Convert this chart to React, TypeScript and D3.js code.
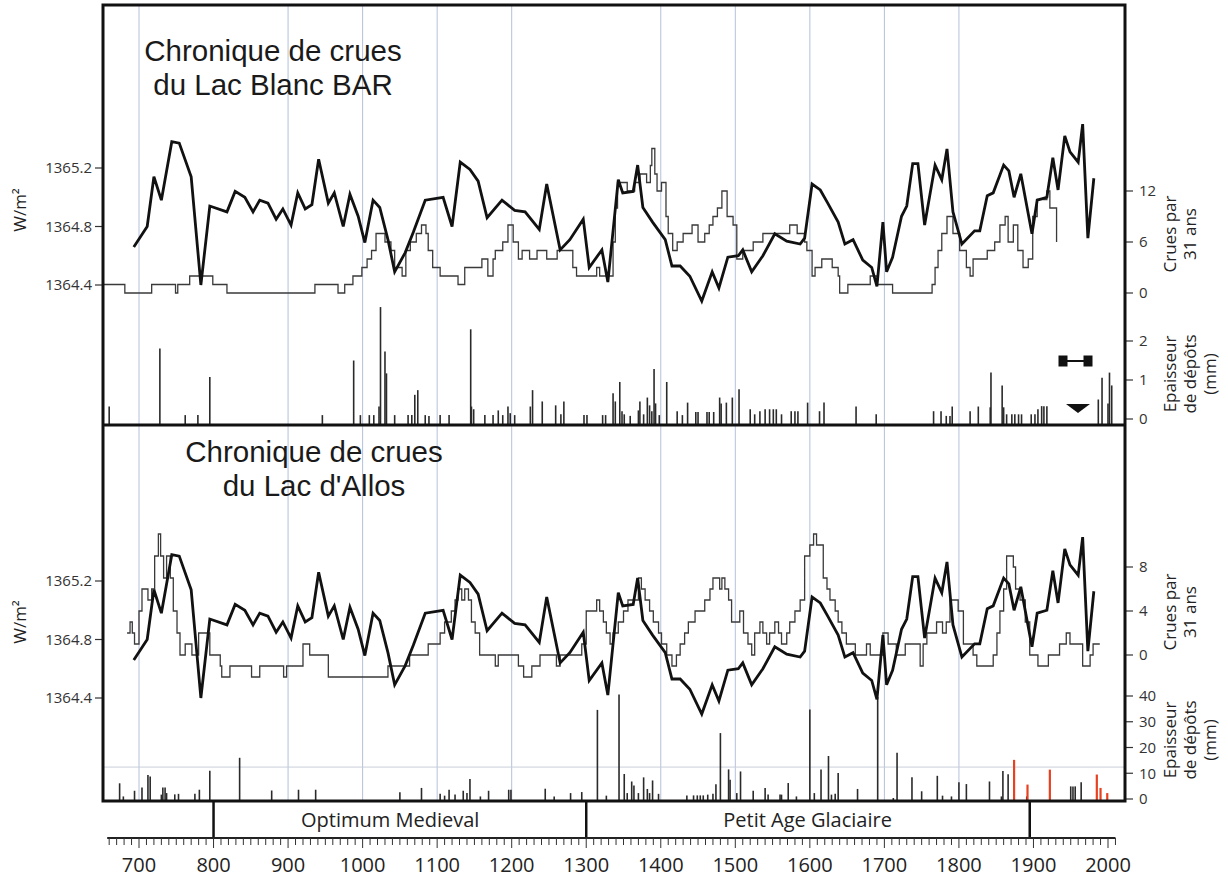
import * as d3 from 'd3'

const WIDTH = 1228
const HEIGHT = 879
const FONT = '"Open Sans", "Noto Sans", sans-serif'
const TITLE_FONT = '"Liberation Sans", Arial, sans-serif'
const FRAME = { left: 103, right: 1125, top: 5, mid: 425, bottom: 801 }

// solar irradiance (W/m2), same curve in both panels
const solar: [number, number][] = [
  [693, 1364.66], [711, 1364.8], [720, 1365.14], [730, 1364.98], [744, 1365.38], [754, 1365.37],
  [770, 1365.14], [783, 1364.4], [795, 1364.94], [818, 1364.9], [829, 1365.04], [842, 1365.0],
  [853, 1364.9], [862, 1364.98], [873, 1364.96], [884, 1364.85], [893, 1364.92], [904, 1364.81],
  [913, 1365.03], [923, 1364.92], [932, 1364.95], [941, 1365.26], [954, 1364.96], [962, 1365.03],
  [974, 1364.8], [983, 1365.02], [994, 1364.87], [1003, 1364.69], [1014, 1364.98], [1023, 1364.93],
  [1034, 1364.71], [1043, 1364.49], [1057, 1364.62], [1068, 1364.76], [1084, 1364.98], [1108, 1365.0],
  [1120, 1364.8], [1131, 1365.24], [1144, 1365.19], [1155, 1365.11], [1167, 1364.86], [1187, 1364.98],
  [1204, 1364.91], [1218, 1364.9], [1237, 1364.78], [1247, 1365.09], [1265, 1364.64], [1278, 1364.71],
  [1296, 1364.85], [1304, 1364.52], [1321, 1364.64], [1329, 1364.42], [1343, 1365.12], [1349, 1365.03],
  [1363, 1365.04], [1369, 1365.22], [1376, 1364.93], [1389, 1364.83], [1406, 1364.71], [1415, 1364.53],
  [1426, 1364.53], [1439, 1364.46], [1455, 1364.29], [1469, 1364.49], [1478, 1364.38], [1490, 1364.59],
  [1504, 1364.6], [1510, 1364.64], [1522, 1364.49], [1537, 1364.6], [1553, 1364.75], [1569, 1364.7],
  [1587, 1364.68], [1593, 1364.72], [1603, 1365.09], [1614, 1365.05], [1624, 1364.96], [1638, 1364.83],
  [1647, 1364.68], [1658, 1364.71], [1671, 1364.57], [1683, 1364.52], [1690, 1364.39], [1698, 1364.83],
  [1703, 1364.49], [1711, 1364.59], [1723, 1364.87], [1730, 1364.94], [1738, 1365.23], [1745, 1365.23],
  [1754, 1364.81], [1768, 1365.22], [1777, 1365.12], [1784, 1365.33], [1792, 1364.9], [1804, 1364.68],
  [1821, 1364.77], [1828, 1364.77], [1838, 1365.01], [1846, 1365.03], [1860, 1365.22], [1867, 1365.18],
  [1874, 1365.0], [1883, 1365.16], [1898, 1364.75], [1905, 1364.98], [1918, 1365.0], [1926, 1365.27],
  [1933, 1365.05], [1942, 1365.42], [1949, 1365.31], [1960, 1365.24], [1966, 1365.5], [1973, 1364.72],
  [1981, 1365.13],
]

// crues par 31 ans, Lac Blanc (step after)
const blancCrues: [number, number][] = [
  [652, 1], [681, 0], [717, 1], [749, 0], [752, 1], [768, 2], [799, 1], [818, 0], [936, 1], [967, 0],
  [976, 1], [987, 2], [999, 3], [1006, 4], [1012, 5], [1018, 7], [1030, 6], [1038, 5], [1043, 3],
  [1053, 2], [1058, 5], [1064, 6], [1072, 7], [1079, 8], [1085, 7], [1088, 5], [1094, 3], [1104, 2],
  [1128, 1], [1137, 3], [1160, 4], [1168, 2], [1175, 4], [1178, 5], [1188, 6], [1195, 8], [1202, 6],
  [1209, 4], [1214, 5], [1224, 4], [1234, 5], [1247, 4], [1261, 5], [1282, 3], [1287, 2], [1314, 3],
  [1318, 2], [1336, 6], [1339, 10], [1342, 13], [1355, 12], [1365, 13], [1372, 14], [1381, 13],
  [1386, 15], [1388, 17], [1392, 14], [1395, 12], [1401, 13], [1407, 9], [1410, 7], [1416, 5],
  [1422, 6], [1430, 7], [1442, 8], [1450, 6], [1459, 7], [1465, 8], [1470, 9], [1476, 10], [1482, 12],
  [1489, 9], [1497, 8], [1502, 4], [1510, 5], [1524, 6], [1537, 7], [1560, 7], [1573, 8], [1583, 7],
  [1593, 6], [1596, 5], [1603, 2], [1607, 3], [1616, 4], [1630, 3], [1638, 2], [1640, 0], [1651, 1],
  [1681, 2], [1690, 1], [1711, 0], [1764, 1], [1768, 3], [1772, 5], [1777, 7], [1784, 9], [1792, 7],
  [1801, 5], [1810, 3], [1815, 2], [1819, 4], [1838, 5], [1848, 6], [1855, 8], [1862, 9], [1866, 6],
  [1873, 8], [1879, 5], [1886, 3], [1893, 4], [1899, 9], [1905, 11], [1918, 12], [1922, 10], [1931, 6],
]

// crues par 31 ans, Lac d'Allos (step after)
const allosCrues: [number, number][] = [
  [684, 2], [688, 3], [691, 2], [694, 1], [700, 4], [704, 6], [712, 5], [717, 6], [721, 9], [726, 11],
  [729, 9], [733, 7], [737, 9], [742, 7], [746, 4], [751, 2], [755, 0], [762, 1], [771, 0], [780, 2],
  [795, 0], [809, -1], [811, -2], [822, -1], [851, -2], [862, -1], [894, -2], [898, -1], [920, 1],
  [929, 0], [954, -2], [1034, -1], [1063, 0], [1088, 1], [1104, 2], [1110, 3], [1119, 4], [1124, 5],
  [1128, 6], [1133, 5], [1137, 6], [1142, 5], [1146, 3], [1151, 2], [1157, 0], [1178, -1], [1182, 0],
  [1209, -1], [1216, -2], [1227, -1], [1238, 0], [1260, -1], [1265, 0], [1294, 1], [1300, 4],
  [1314, 5], [1318, 4], [1323, 3], [1327, 2], [1332, 1], [1336, 2], [1343, 3], [1350, 4], [1356, 5],
  [1370, 7], [1374, 6], [1379, 5], [1385, 4], [1390, 3], [1397, 2], [1401, 1], [1408, 0], [1415, -1],
  [1421, 0], [1426, 1], [1432, 2], [1437, 3], [1446, 4], [1459, 5], [1466, 6], [1470, 7], [1479, 6],
  [1482, 7], [1486, 6], [1491, 5], [1495, 3], [1506, 4], [1511, 2], [1517, 1], [1522, 0], [1526, 2],
  [1533, 3], [1537, 2], [1542, 1], [1546, 2], [1553, 3], [1558, 2], [1562, 1], [1569, 2], [1573, 3],
  [1580, 4], [1587, 5], [1593, 9], [1600, 10], [1605, 11], [1609, 10], [1618, 7], [1623, 6],
  [1627, 5], [1634, 4], [1638, 3], [1643, 2], [1649, 1], [1661, 0], [1676, 1], [1681, 0], [1698, 2],
  [1705, 1], [1716, 0], [1728, 1], [1748, -1], [1752, 1], [1757, 2], [1770, 3], [1778, 2], [1783, 3],
  [1788, 5], [1799, 4], [1806, 1], [1819, 0], [1824, -1], [1846, 0], [1851, 2], [1855, 4], [1860, 6],
  [1864, 9], [1873, 8], [1876, 6], [1882, 5], [1889, 3], [1895, 0], [1906, -1], [1920, 0], [1935, 1],
  [1944, 2], [1949, 1], [1966, -1], [1976, 0], [1980, 1], [1989, 1],
]

// épaisseur de dépôts (mm), Lac Blanc
const blancDepots: [number, number][] = [
  [660, 0.32], [728, 1.81], [762, 0.1], [779, 0.1], [795, 1.08], [946, 0.1], [988, 1.5], [997, 0.1],
  [1009, 0.1], [1015, 0.1], [1022, 0.32], [1024, 2.87], [1030, 1.73], [1032, 1.17], [1043, 0.1],
  [1061, 0.1], [1066, 0.1], [1070, 0.62], [1074, 0.74], [1084, 0.1], [1089, 0.08], [1104, 0.1],
  [1116, 0.1], [1145, 2.3], [1146, 0.32], [1149, 0.25], [1164, 0.1], [1175, 0.1], [1182, 0.22],
  [1188, 0.1], [1195, 0.32], [1198, 0.15], [1204, 0.1], [1225, 0.32], [1228, 0.74], [1241, 0.45],
  [1259, 0.35], [1266, 0.12], [1270, 0.45], [1297, 0.1], [1301, 0.1], [1322, 0.1], [1326, 0.1],
  [1336, 0.66], [1339, 0.45], [1345, 0.95], [1348, 0.2], [1351, 0.12], [1359, 0.08], [1370, 0.22],
  [1372, 0.45], [1377, 0.12], [1382, 0.55], [1385, 0.35], [1388, 0.2], [1391, 1.28], [1393, 0.4],
  [1398, 0.1], [1408, 0.95], [1422, 0.2], [1429, 0.1], [1436, 0.42], [1447, 0.18], [1450, 0.18],
  [1462, 0.18], [1465, 0.18], [1471, 0.18], [1479, 0.55], [1481, 0.4], [1488, 0.42], [1496, 0.55],
  [1505, 0.76], [1520, 0.25], [1526, 0.12], [1533, 0.2], [1540, 0.25], [1546, 0.25], [1551, 0.25],
  [1555, 0.25], [1562, 0.12], [1575, 0.2], [1580, 0.2], [1584, 0.2], [1597, 0.42], [1613, 0.2],
  [1619, 0.42], [1662, 0.32], [1689, 0.12], [1766, 0.2], [1776, 0.2], [1783, 0.08], [1788, 0.08],
  [1791, 0.32], [1815, 0.2], [1826, 0.32], [1842, 0.3], [1843, 1.19], [1858, 0.86], [1860, 0.3],
  [1864, 0.12], [1871, 0.12], [1875, 0.12], [1880, 0.12], [1884, 0.12], [1897, 0.12], [1902, 0.12],
  [1906, 0.25], [1911, 0.33], [1914, 0.33], [1918, 0.33], [1987, 0.5], [1992, 1.06], [2000, 0.4],
  [2002, 1.19], [2005, 0.86],
]

// épaisseur de dépôts (mm), Lac d'Allos
const allosDepots: [number, number][] = [
  [674, 6.1], [679, 1], [694, 3.2], [704, 4.5], [712, 9.3], [715, 8.7], [730, 1.7], [732, 4.5],
  [735, 4.5], [737, 2.3], [748, 1.8], [753, 2], [775, 2], [781, 3.6], [795, 11], [835, 16], [878, 3.3],
  [914, 3.6], [937, 3.6], [1050, 2.6], [1079, 4.3], [1104, 2], [1110, 1.3], [1116, 3.6], [1124, 1.7],
  [1135, 3.2], [1140, 2.3], [1144, 7.8], [1158, 1], [1169, 3.2], [1196, 3.6], [1199, 3.6], [1245, 4],
  [1257, 1], [1279, 2.3], [1294, 2.7], [1315, 34.6], [1327, 1.3], [1344, 40.6], [1351, 9.7],
  [1355, 2.3], [1361, 6.8], [1364, 5.2], [1370, 2.3], [1377, 8.4], [1382, 3.9], [1385, 2.3],
  [1389, 7.2], [1397, 2], [1435, 1.4], [1444, 1.4], [1449, 1.4], [1453, 1.4], [1457, 1.4], [1463, 1.7],
  [1470, 2], [1474, 5.7], [1480, 25.6], [1491, 11.5], [1493, 7.5], [1502, 2.3], [1507, 10.7],
  [1524, 3.2], [1540, 4.3], [1544, 1.7], [1560, 1.7], [1562, 1.7], [1571, 6.2], [1582, 1], [1600, 34.8],
  [1606, 2.3], [1615, 11.5], [1625, 16.7], [1629, 1.7], [1634, 2], [1638, 10.1], [1664, 3.9],
  [1691, 39.6], [1712, 0.4], [1717, 18], [1737, 8.4], [1750, 3], [1771, 9], [1778, 1.3], [1790, 1],
  [1800, 6.5], [1810, 5.8], [1841, 6.8], [1857, 1], [1859, 10.9], [1866, 9.6], [1891, 1], [1950, 4.9],
  [1953, 4.9], [1956, 4.9], [1964, 6.5],
]
const allosDepotsRed: [number, number][] = [
  [1874, 15.2], [1892, 5.6], [1922, 11.4], [1985, 9.5], [1990, 4.3], [1999, 2.3],
]
const allosThreshold = 12.4

// axes
const solarTicks = [1364.4, 1364.8, 1365.2]
const blancCruesTicks = [0, 6, 12]
const blancDepotTicks = [0, 1, 2]
const allosCruesTicks = [0, 4, 8]
const allosDepotTicks = [0, 10, 20, 30, 40]
const gridYears = [700, 900, 1000, 1100, 1200, 1400, 1500, 1600, 1700, 1800]
const majorYears = d3.range(700, 2001, 100)
const minorYears = d3.range(660, 2011, 10)
const periodBounds = [800, 1300, 1895]
const periodNames = ['Optimum Medieval', 'Petit Age Glaciaire']
const periodLabelYears = [1037, 1597]

const x = d3.scaleLinear().domain([700, 2000]).range([139, 1108])

type PanelProps = {
  titleLines: string[]
  titleX: number
  titleY: number
  solarRange: [number, number]
  crues: [number, number][]
  cruesDomain: [number, number]
  cruesRange: [number, number]
  cruesTicks: number[]
  depots: [number, number][]
  redDepots?: [number, number][]
  depotDomain: [number, number]
  depotRange: [number, number]
  depotTicks: number[]
  base: number
  threshold?: number
  wY: number
  cruesTitleY: number
  depotTitleY: number
}

function Panel(p: PanelProps) {
  const ySolar = d3.scaleLinear().domain([1364.4, 1365.2]).range(p.solarRange)
  const yCrues = d3.scaleLinear().domain(p.cruesDomain).range(p.cruesRange)
  const yDepot = d3.scaleLinear().domain(p.depotDomain).range(p.depotRange)

  const solarPath = d3
    .line<[number, number]>()
    .x((d) => x(d[0]))
    .y((d) => ySolar(d[1]))(solar) as string

  const cruesPath = d3
    .line<[number, number]>()
    .x((d) => x(d[0]))
    .y((d) => yCrues(d[1]))
    .curve(d3.curveStepAfter)(p.crues) as string

  const bar = (d: [number, number], color: string, w: number, key: string) => (
    <line
      key={key}
      x1={x(d[0])}
      x2={x(d[0])}
      y1={p.base}
      y2={yDepot(d[1])}
      stroke={color}
      strokeWidth={w}
    />
  )

  return (
    <g>
      {p.threshold !== undefined && (
        <line
          x1={FRAME.left}
          x2={FRAME.right}
          y1={yDepot(p.threshold)}
          y2={yDepot(p.threshold)}
          stroke="#c9ced8"
          strokeWidth={1}
        />
      )}

      {p.depots.map((d, i) => bar(d, '#2a2a2a', 1.6, `b${i}`))}
      {(p.redDepots || []).map((d, i) => bar(d, '#e8411f', 2.2, `r${i}`))}

      <path d={cruesPath} fill="none" stroke="#3a3a3a" strokeWidth={1.3} />
      <path d={solarPath} fill="none" stroke="#111" strokeWidth={2.8} strokeLinejoin="miter" />

      {p.titleLines.map((t, i) => (
        <text
          key={t}
          x={p.titleX}
          y={p.titleY + i * 33.5}
          textAnchor="middle"
          fontFamily={TITLE_FONT}
          fontSize={29.5}
          fill="#1a1a1a"
        >
          {t}
        </text>
      ))}

      {/* left axis */}
      {solarTicks.map((t) => (
        <g key={t} transform={`translate(0 ${ySolar(t)})`}>
          <line x1={95} x2={FRAME.left} stroke="#333" strokeWidth={1.2} />
          <text x={92} dy="0.35em" textAnchor="end" fontFamily={FONT} fontSize={15} fill="#333">
            {d3.format('.1f')(t)}
          </text>
        </g>
      ))}
      <text
        transform={`translate(26 ${p.wY}) rotate(-90)`}
        textAnchor="middle"
        fontFamily={FONT}
        fontSize={17}
        fill="#222"
      >
        W/m²
      </text>

      {/* right axes */}
      {p.cruesTicks.map((t) => (
        <g key={`c${t}`} transform={`translate(0 ${yCrues(t)})`}>
          <line x1={FRAME.right} x2={FRAME.right + 8} stroke="#333" strokeWidth={1.2} />
          <text x={1139} dy="0.35em" fontFamily={FONT} fontSize={15} fill="#333">
            {t}
          </text>
        </g>
      ))}
      {p.depotTicks.map((t) => (
        <g key={`d${t}`} transform={`translate(0 ${yDepot(t)})`}>
          <line x1={FRAME.right} x2={FRAME.right + 8} stroke="#333" strokeWidth={1.2} />
          <text x={1139} dy="0.35em" fontFamily={FONT} fontSize={15} fill="#333">
            {t}
          </text>
        </g>
      ))}
      {['Crues par', '31 ans'].map((t, i) => (
        <text
          key={t}
          transform={`translate(${1170 + i * 20} ${p.cruesTitleY}) rotate(-90)`}
          textAnchor="middle"
          dy="0.35em"
          fontFamily={FONT}
          fontSize={17}
          fill="#222"
        >
          {t}
        </text>
      ))}
      {['Epaisseur', 'de dépôts', '(mm)'].map((t, i) => (
        <text
          key={t}
          transform={`translate(${1170 + i * 20} ${p.depotTitleY}) rotate(-90)`}
          textAnchor="middle"
          dy="0.35em"
          fontFamily={FONT}
          fontSize={17}
          fill="#222"
        >
          {t}
        </text>
      ))}
    </g>
  )
}

export default function App() {
  const axisY = 838
  return (
    <svg
      width={WIDTH}
      height={HEIGHT}
      viewBox={`0 0 ${WIDTH} ${HEIGHT}`}
      style={{ position: 'absolute', left: 0, top: 0, background: '#fff' }}
    >
      <rect width={WIDTH} height={HEIGHT} fill="#fff" />

      {gridYears.map((yr) => (
        <line
          key={yr}
          x1={x(yr)}
          x2={x(yr)}
          y1={FRAME.top}
          y2={FRAME.bottom}
          stroke="#b4c0da"
          strokeWidth={1}
        />
      ))}

      <Panel
        titleLines={['Chronique de crues', 'du Lac Blanc BAR']}
        titleX={273}
        titleY={61}
        solarRange={[285, 168]}
        crues={blancCrues}
        cruesDomain={[0, 12]}
        cruesRange={[293, 191]}
        cruesTicks={blancCruesTicks}
        depots={blancDepots}
        depotDomain={[0, 2]}
        depotRange={[419, 341]}
        depotTicks={blancDepotTicks}
        base={FRAME.mid}
        wY={210}
        cruesTitleY={234}
        depotTitleY={374}
      />
      <Panel
        titleLines={['Chronique de crues', "du Lac d'Allos"]}
        titleX={314}
        titleY={462}
        solarRange={[698, 581]}
        crues={allosCrues}
        cruesDomain={[0, 8]}
        cruesRange={[655, 567]}
        cruesTicks={allosCruesTicks}
        depots={allosDepots}
        redDepots={allosDepotsRed}
        depotDomain={[0, 40]}
        depotRange={[799, 696]}
        depotTicks={allosDepotTicks}
        base={FRAME.bottom}
        threshold={allosThreshold}
        wY={622}
        cruesTitleY={612}
        depotTitleY={740}
      />

      {/* legend symbols, top right */}
      <g fill="#111" stroke="#111">
        <rect x={1059} y={356} width={8} height={10} />
        <rect x={1084} y={356} width={8} height={10} />
        <line x1={1063} x2={1088} y1={361} y2={361} strokeWidth={2} />
        <path d="M1066,404 L1090,404 L1078,413 Z" stroke="none" />
      </g>

      {/* frame */}
      <rect
        x={FRAME.left}
        y={FRAME.top}
        width={FRAME.right - FRAME.left}
        height={FRAME.bottom - FRAME.top}
        fill="none"
        stroke="#111"
        strokeWidth={3}
      />
      <line x1={FRAME.left} x2={FRAME.right} y1={FRAME.mid} y2={FRAME.mid} stroke="#111" strokeWidth={3} />

      {/* periods */}
      {periodBounds.map((yr) => (
        <line key={yr} x1={x(yr)} x2={x(yr)} y1={FRAME.bottom} y2={axisY} stroke="#111" strokeWidth={2.5} />
      ))}
      {periodNames.map((name, i) => (
        <text
          key={name}
          x={x(periodLabelYears[i])}
          y={827}
          textAnchor="middle"
          fontFamily={FONT}
          fontSize={20}
          fill="#222"
        >
          {name}
        </text>
      ))}

      {/* time axis */}
      <line x1={x(minorYears[0]) - 2} x2={x(minorYears[minorYears.length - 1])} y1={axisY} y2={axisY} stroke="#222" strokeWidth={2} />
      {minorYears.map((yr) => (
        <line key={yr} x1={x(yr)} x2={x(yr)} y1={axisY} y2={axisY + (yr % 100 === 0 ? 10 : 7)} stroke="#333" strokeWidth={1} />
      ))}
      {majorYears.map((yr) => (
        <text key={yr} x={x(yr)} y={872} textAnchor="middle" fontFamily={FONT} fontSize={20} fill="#222">
          {yr}
        </text>
      ))}
    </svg>
  )
}
